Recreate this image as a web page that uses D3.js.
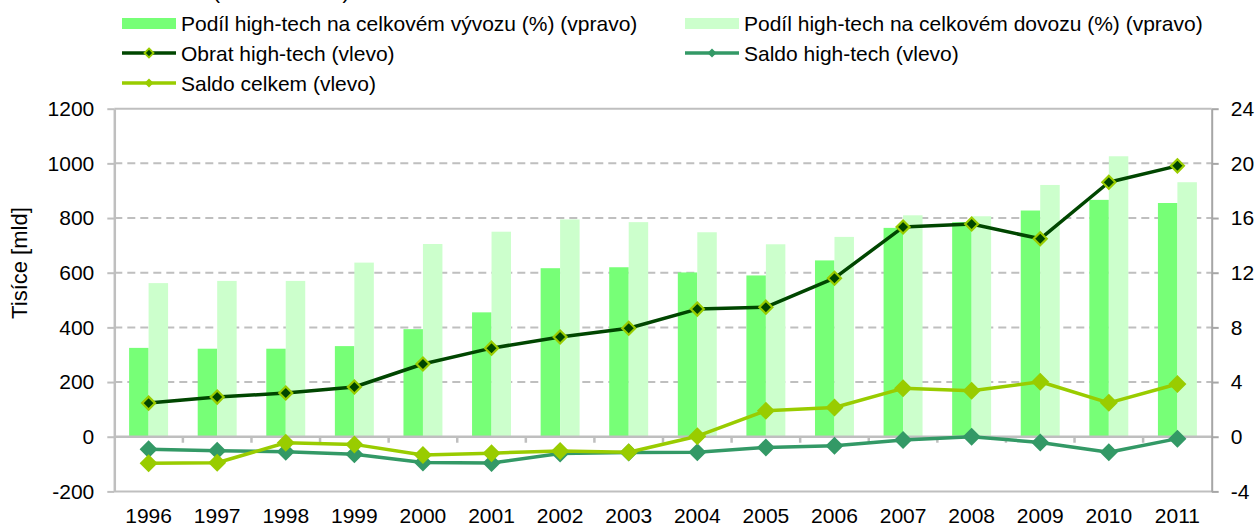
<!DOCTYPE html>
<html>
<head>
<meta charset="utf-8">
<script src="https://cdn.jsdelivr.net/npm/d3@7"></script>
<style>
  html, body { margin: 0; padding: 0; background: #fff; }
  svg { display: block; font-family: "Liberation Sans", Arial, sans-serif; }
</style>
</head>
<body>
<svg id="chart" width="1256" height="527"></svg>
<script>
// Years on the category axis
const years = ["1996","1997","1998","1999","2000","2001","2002","2003","2004","2005","2006","2007","2008","2009","2010","2011"];

// Share of high-tech in total exports / imports (%), right axis
const exportShare = [6.5, 6.44, 6.44, 6.63, 7.87, 9.1, 12.33, 12.4, 12.02, 11.8, 12.9, 15.28, 15.7, 16.55, 17.33, 17.1];
const importShare = [11.24, 11.4, 11.4, 12.74, 14.1, 15.0, 15.9, 15.7, 14.96, 14.08, 14.62, 16.2, 16.13, 18.42, 20.52, 18.62];

// Left axis series (thousands of bn)
const obratHT = [123, 145, 160, 182, 266, 324, 365, 397, 467, 474, 580, 767, 778, 724, 931, 991];
const saldoHT = [-46, -51, -55, -64, -94, -96, -61, -58, -57, -39, -33, -12, 0, -21, -57, -7];
const saldoTotal = [-97, -95, -22, -28, -67, -60, -52, -57, 2, 95, 107, 177, 168, 201, 124, 193];

// Axis ticks
const leftTicks = [-200, 0, 200, 400, 600, 800, 1000, 1200];
const rightTicks = [-4, 0, 4, 8, 12, 16, 20, 24];

// Legend labels
const labelExport = "Podíl high-tech na celkovém vývozu (%) (vpravo)";
const labelImport = "Podíl high-tech na celkovém dovozu (%) (vpravo)";
const labelObrat = "Obrat high-tech (vlevo)";
const labelSaldoHT = "Saldo high-tech (vlevo)";
const labelSaldoTotal = "Saldo celkem (vlevo)";
const axisTitle = "Tisíce [mld]";
const topNote = "(v mld Kč a %)";

const FONT = 21;
const FF = "Liberation Sans, Arial, sans-serif";
const C = {
  export: "#77ff77",
  import: "#ccffcc",
  obrat: "#004600",
  obratEdge: "#99cc00",
  saldoHT: "#339966",
  saldoTotal: "#99cc00",
  grid: "#bfbfbf",
  axis: "#bfbfbf",
  rightAxis: "#a6a6a6"
};
const plainNum = d => String(d);

const svg = d3.select("#chart");
const plotLeft = 114.3, plotRight = 1211.7, plotTop = 108.7, plotBottom = 491.4;

const x = d3.scaleBand().domain(years).range([plotLeft, plotRight]).paddingInner(0).paddingOuter(0);
const yL = d3.scaleLinear().domain([-200, 1200]).range([plotBottom, plotTop]);
const yR = d3.scaleLinear().domain([-4, 24]).range([plotBottom, plotTop]);
const cx = d => x(d) + x.bandwidth() / 2;
const barW = x.bandwidth() * 0.284;

// heading line above the legend, mostly outside the top edge
svg.append("text").attr("x", 213).attr("y", -1).attr("font-size", FONT).attr("fill", "#000").text(topNote);

// gridlines
svg.append("g").selectAll("line").data([200, 400, 600, 800, 1000]).join("line")
  .attr("x1", plotLeft).attr("x2", plotRight)
  .attr("y1", d => yL(d)).attr("y2", d => yL(d))
  .attr("stroke", C.grid).attr("stroke-width", 2).attr("stroke-dasharray", "8,5");

// frame lines top/bottom
svg.append("line").attr("x1", plotLeft).attr("x2", plotRight).attr("y1", yL(1200)).attr("y2", yL(1200))
  .attr("stroke", C.axis).attr("stroke-width", 2);
svg.append("line").attr("x1", plotLeft).attr("x2", plotRight).attr("y1", yL(-200)).attr("y2", yL(-200))
  .attr("stroke", C.axis).attr("stroke-width", 2);

// bars
const bars = svg.append("g");
bars.selectAll("rect.ex").data(years).join("rect").attr("class", "ex")
  .attr("x", d => cx(d) - barW).attr("width", barW)
  .attr("y", (d, i) => yR(exportShare[i])).attr("height", (d, i) => yR(0) - yR(exportShare[i]))
  .attr("fill", C.export);
bars.selectAll("rect.im").data(years).join("rect").attr("class", "im")
  .attr("x", d => cx(d)).attr("width", barW)
  .attr("y", (d, i) => yR(importShare[i])).attr("height", (d, i) => yR(0) - yR(importShare[i]))
  .attr("fill", C.import);

// zero category axis with tick marks between categories
const z = yL(0);
svg.append("line").attr("x1", plotLeft).attr("x2", plotRight).attr("y1", z).attr("y2", z)
  .attr("stroke", C.axis).attr("stroke-width", 2.5);
svg.append("g").selectAll("line").data(d3.range(1, years.length)).join("line")
  .attr("x1", i => plotLeft + i * x.bandwidth()).attr("x2", i => plotLeft + i * x.bandwidth())
  .attr("y1", z).attr("y2", z + 6)
  .attr("stroke", C.axis).attr("stroke-width", 2.5);

// left axis
const gL = svg.append("g").attr("transform", `translate(${plotLeft},0)`)
  .call(d3.axisLeft(yL).tickValues(leftTicks).tickFormat(plainNum).tickSize(7).tickSizeOuter(0).tickPadding(13));
gL.select(".domain").attr("stroke", C.axis).attr("stroke-width", 2.5);
gL.selectAll(".tick line").attr("stroke", C.axis).attr("stroke-width", 2);
gL.selectAll("text").attr("font-size", FONT).attr("font-family", FF).attr("fill", "#000");

// right axis
const gR = svg.append("g").attr("transform", `translate(${plotRight},0)`)
  .call(d3.axisRight(yR).tickValues(rightTicks).tickFormat(plainNum).tickSize(7).tickSizeOuter(0).tickPadding(12));
gR.select(".domain").attr("stroke", C.rightAxis).attr("stroke-width", 2);
gR.selectAll(".tick line").attr("stroke", C.rightAxis).attr("stroke-width", 2);
gR.selectAll("text").attr("font-size", FONT).attr("font-family", FF).attr("fill", "#000");

// year labels
const gB = svg.append("g").attr("transform", `translate(0,${plotBottom})`)
  .call(d3.axisBottom(x).tickSize(0).tickPadding(17));
gB.select(".domain").remove();
gB.selectAll("text").attr("font-size", FONT).attr("font-family", FF).attr("fill", "#000");

// axis title
svg.append("text").attr("transform", `translate(27,${(plotTop + plotBottom) / 2 - 37}) rotate(-90)`)
  .attr("text-anchor", "middle").attr("font-size", 22).attr("fill", "#000").text(axisTitle);

// lines with diamond markers
const diamond = (s) => `M0,${-s}L${s},0L0,${s}L${-s},0Z`;
function series(vals, color, width, mSize, mFill, mStroke, mStrokeW) {
  const g = svg.append("g");
  g.append("path").datum(vals)
    .attr("d", d3.line().x((d, i) => cx(years[i])).y(d => yL(d)))
    .attr("fill", "none").attr("stroke", color).attr("stroke-width", width).attr("stroke-linejoin", "round");
  g.selectAll("path.m").data(vals).join("path").attr("class", "m")
    .attr("transform", (d, i) => `translate(${cx(years[i])},${yL(d)})`)
    .attr("d", diamond(mSize))
    .attr("fill", mFill).attr("stroke", mStroke).attr("stroke-width", mStrokeW);
}
series(obratHT, C.obrat, 3.5, 6.5, C.obrat, C.obratEdge, 2.2);
series(saldoHT, C.saldoHT, 3.5, 9, C.saldoHT, "none", 0);
series(saldoTotal, C.saldoTotal, 3.5, 9, C.saldoTotal, "none", 0);

// legend
const lg = svg.append("g").attr("font-size", FONT).attr("fill", "#000");
function legendRect(x0, yc, fill, label) {
  lg.append("rect").attr("x", x0).attr("y", yc - 5).attr("width", 54).attr("height", 11).attr("fill", fill);
  lg.append("text").attr("x", x0 + 59).attr("y", yc + 7.5).text(label);
}
function legendLine(x0, yc, color, mFill, mStroke, s, label) {
  lg.append("line").attr("x1", x0).attr("x2", x0 + 54).attr("y1", yc).attr("y2", yc)
    .attr("stroke", color).attr("stroke-width", 3.5);
  lg.append("path").attr("transform", `translate(${x0 + 27},${yc})`).attr("d", diamond(s))
    .attr("fill", mFill).attr("stroke", mStroke).attr("stroke-width", mStroke === "none" ? 0 : 1.8);
  lg.append("text").attr("x", x0 + 59).attr("y", yc + 7.5).text(label);
}
legendRect(122, 23, C.export, labelExport);
legendRect(685, 23, C.import, labelImport);
legendLine(122, 53, C.obrat, C.obrat, C.obratEdge, 4.5, labelObrat);
legendLine(685, 53, C.saldoHT, C.saldoHT, "none", 4.5, labelSaldoHT);
legendLine(122, 83, C.saldoTotal, C.saldoTotal, "none", 4.5, labelSaldoTotal);
</script>
</body>
</html>
